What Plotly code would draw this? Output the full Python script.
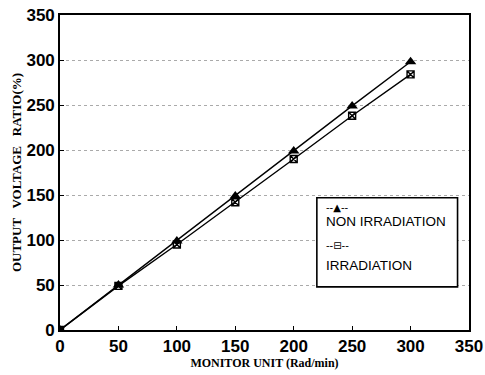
import plotly.graph_objects as go

monitor_unit = [0, 50, 100, 150, 200, 250, 300]
non_irradiation = [0, 50, 99, 149, 199, 249, 298]
irradiation = [0, 49, 95, 142, 190, 238, 284]
tick_vals = [0, 50, 100, 150, 200, 250, 300, 350]
tick_text = ["<b>%d</b>" % v for v in tick_vals]

fig = go.Figure()
fig.add_trace(go.Scatter(x=monitor_unit, y=non_irradiation, mode="lines+markers",
                         name="NON IRRADIATION",
                         line=dict(color="black", width=1.4),
                         marker=dict(symbol="triangle-up", size=10, color="black")))
fig.add_trace(go.Scatter(x=monitor_unit, y=irradiation, mode="lines+markers",
                         name="IRRADIATION",
                         line=dict(color="black", width=1.4),
                         marker=dict(symbol="square-x-open", size=7, color="black",
                                     line=dict(width=1.4, color="black"))))

# legend box drawn manually (symbols above labels, as in the original)
fig.add_shape(type="rect", xref="paper", yref="paper", x0=0.628, x1=0.972, y0=0.137, y1=0.42,
              line=dict(color="black", width=1.6), fillcolor="white", layer="above")
ann_font = dict(family="Liberation Sans, Arial", size=13.5, color="black")
fig.add_annotation(xref="paper", yref="paper", x=0.645, y=0.39, text="--▲--", showarrow=False,
                   xanchor="left", font=dict(family="DejaVu Sans", size=10, color="black"))
fig.add_annotation(xref="paper", yref="paper", x=0.645, y=0.315, text="NON IRRADIATION", showarrow=False,
                   xanchor="left", font=ann_font)
fig.add_annotation(xref="paper", yref="paper", x=0.645, y=0.245, text="--⊟--", showarrow=False,
                   xanchor="left", font=dict(family="DejaVu Sans", size=10, color="black"))
fig.add_annotation(xref="paper", yref="paper", x=0.645, y=0.175, text="IRRADIATION", showarrow=False,
                   xanchor="left", font=ann_font)

axis_common = dict(range=[0, 350], tickvals=tick_vals, ticktext=tick_text, showline=True,
                   linecolor="black", linewidth=1.6, automargin=False,
                   mirror=True, ticks="inside", ticklen=4, tickcolor="black",
                   tickfont=dict(family="Liberation Sans, Arial", size=17, color="black"),
                   zeroline=False)
fig.update_xaxes(**axis_common, showgrid=False,
                 title=dict(text="<b>MONITOR UNIT (Rad/min)</b>", standoff=1,
                            font=dict(family="Liberation Serif, DejaVu Serif", size=12, color="black")))
fig.update_yaxes(**axis_common, showgrid=True, gridcolor="#aaaaaa", griddash="dot", gridwidth=1,
                 title=dict(text="<b>OUTPUT   VOLTAGE   RATIO(%)</b>", standoff=2,
                            font=dict(family="Liberation Serif, DejaVu Serif", size=13, color="black")))

fig.update_layout(width=485, height=375, margin=dict(l=60, r=16, t=15, b=45),
                  plot_bgcolor="white", paper_bgcolor="white", showlegend=False,
                  font=dict(family="Liberation Sans, Arial", color="black"))
fig.write_html("out.html")
